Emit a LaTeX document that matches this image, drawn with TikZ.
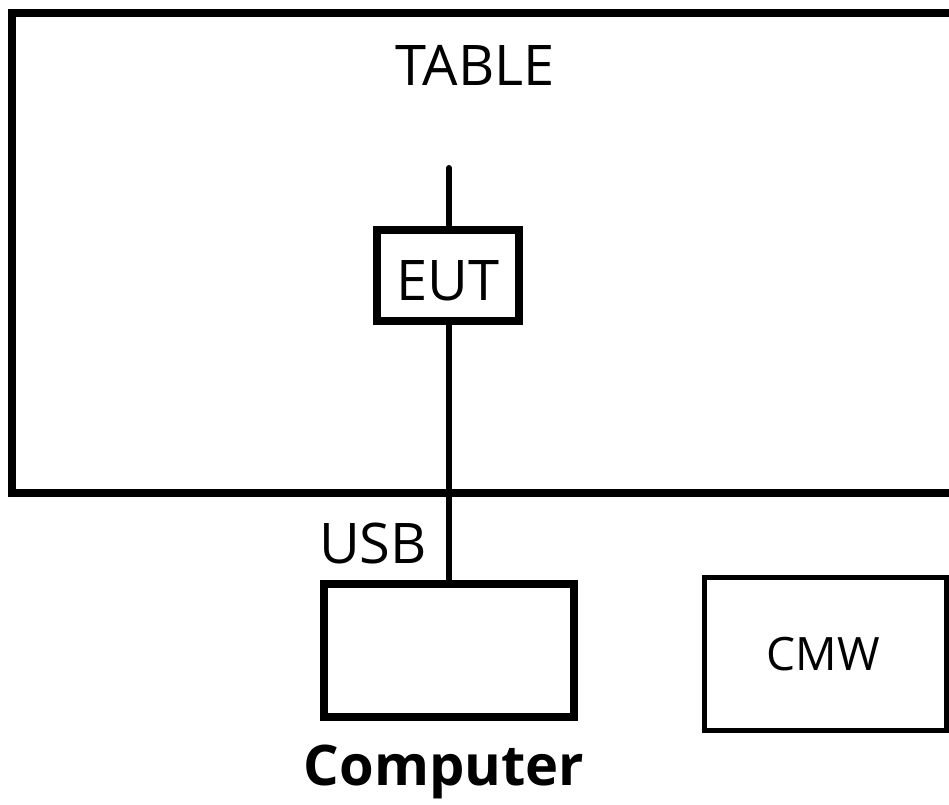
\documentclass[tikz,border=0pt]{standalone}
\usepackage{fontspec}
\setmainfont{Open Sans}
\begin{document}
\begin{tikzpicture}[x=1pt,y=-1pt,
  boxthick/.style={draw=black,line width=8pt,inner sep=0pt,outer sep=0pt},
  boxthin/.style={draw=black,line width=5pt,inner sep=0pt,outer sep=0pt},
  lbl/.style={anchor=base,inner sep=0pt,font=\fontsize{56}{60}\selectfont},
  wire/.style={line width=6pt,line cap=round}]
\useasboundingbox (0,0) rectangle (949,804);
\fill[white] (0,0) rectangle (949,804);
% table (extends past right edge)
\node[boxthick,line width=8.5pt,minimum width=968pt,minimum height=480pt] (tbl) at (496,253) {};
\node[lbl] (table) at (475,85) {TABLE};
% EUT
\node[boxthick,minimum width=142pt,minimum height=91pt] (eutbox) at (448,275.5) {};
\node[lbl] (eut) at (448,300) {EUT};
\coordinate (ant) at (449,168);
\draw[wire] (eutbox.north -| ant) -- (ant);
% computer
\node[boxthick,minimum width=250pt,minimum height=133pt] (comp) at (449,650.5) {};
\draw[line width=5.5pt] (eutbox.south -| ant) -- (comp.north -| ant);
\node[lbl] (usb) at (373,563) {USB};
\node[lbl,font=\fontsize{56}{60}\selectfont\bfseries] (complbl) at (444,785) {Computer};
% CMW
\node[boxthin,minimum width=242pt,minimum height=153pt] (cmwbox) at (825,653.5) {};
\node[lbl,font=\fontsize{46}{50}\selectfont] (cmw) at (823,670) {CMW};
\end{tikzpicture}
\end{document}
